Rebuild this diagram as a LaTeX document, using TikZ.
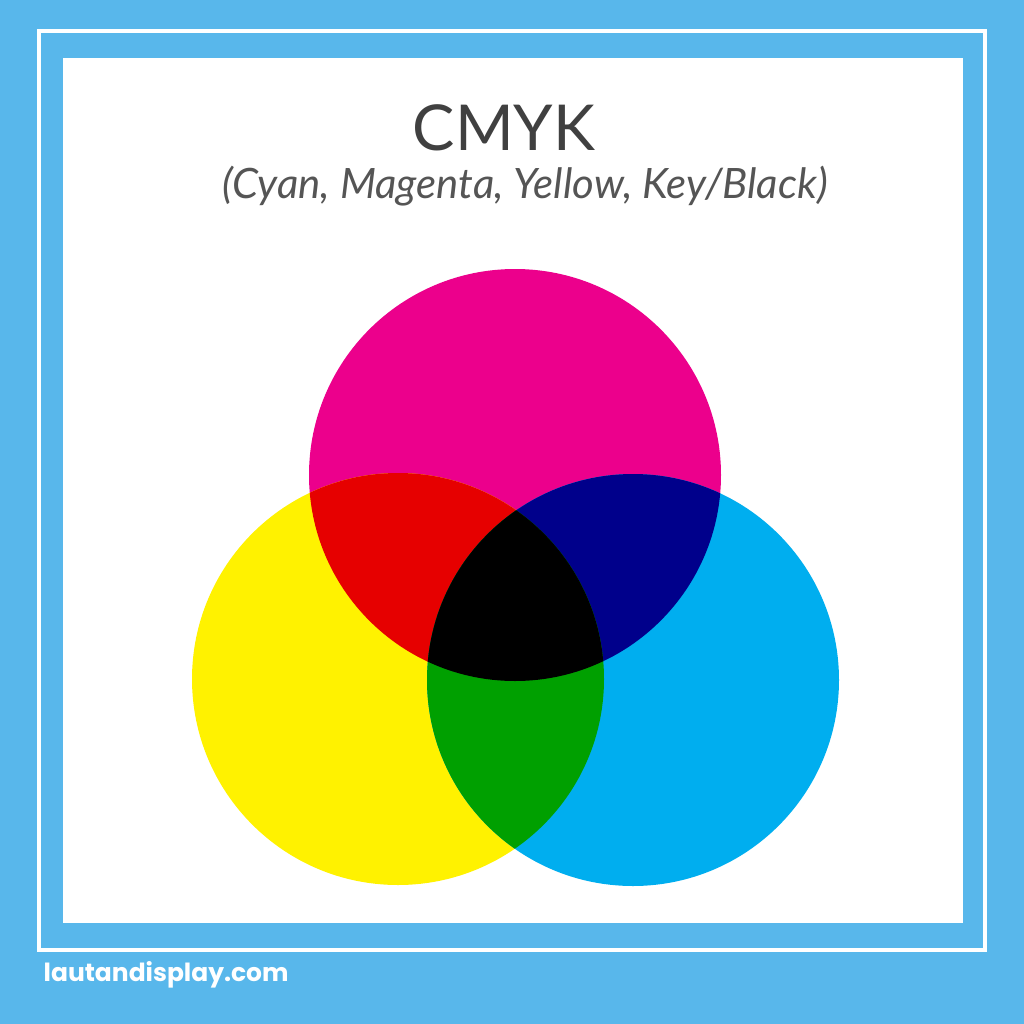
\documentclass[tikz,border=0pt]{standalone}
\usepackage{fontspec}
\setmainfont{Poppins}
\newfontfamily\titlefont{Lato}
\usetikzlibrary{calc}

\definecolor{framebg}{HTML}{58B7EB}
\definecolor{inkmagenta}{HTML}{EC008C}
\definecolor{inkyellow}{HTML}{FFF200}
\definecolor{inkcyan}{HTML}{00AEEF}
\definecolor{inkred}{HTML}{E60000}
\definecolor{inkblue}{HTML}{00008B}
\definecolor{inkgreen}{HTML}{00A000}
\definecolor{subgray}{HTML}{555555}

\begin{document}
\begin{tikzpicture}[
        %We set the scale (1 unit = 1 pixel) and define some styles
        x=0.01cm, y=-0.01cm,
        frame line/.style={draw=white, line width=0.45mm},
        ink/.style={fill=#1, draw=none},
        every node/.style={inner sep=0pt}
     ]
    \useasboundingbox (0,0) rectangle (1024,1024);
    % Background and frame
    \fill[framebg] (0,0) rectangle (1024,1024);
    \draw[frame line] (39,31) rectangle (985,950);
    \fill[white] (63,58) rectangle (963,923);

    % Important coordinates are defined
    \coordinate (m) at (515,475);
    \coordinate (y) at (398,679);
    \coordinate (c) at (633,680);
    \def\rad{206}

    %The three inks
    \fill[ink=inkmagenta] (m) circle[radius=\rad];
    \fill[ink=inkyellow] (y) circle[radius=\rad];
    \fill[ink=inkcyan] (c) circle[radius=\rad];
    % Overlaps of two inks
    \begin{scope}
        \clip (m) circle[radius=\rad];
        \fill[ink=inkred] (y) circle[radius=\rad];
        \fill[ink=inkblue] (c) circle[radius=\rad];
    \end{scope}
    \begin{scope}
        \clip (y) circle[radius=\rad];
        \fill[ink=inkgreen] (c) circle[radius=\rad];
        % Overlap of all three
        \clip (m) circle[radius=\rad];
        \fill[ink=black] (c) circle[radius=\rad];
    \end{scope}

    % Titles
    \node (title) at (504,128) {\titlefont\fontsize{18}{21}\selectfont\color{black!75}CMYK};
    \node (subtitle) at (525,186) {\titlefont\itshape\fontsize{11.9}{14}\selectfont\color{subgray}(Cyan, Magenta, Yellow, Key/Black)};
    % Footer
    \node[anchor=west] (site) at (43,975) {\bfseries\fontsize{7.1}{9}\selectfont\color{white}lautandisplay.com};
\end{tikzpicture}
\end{document}
